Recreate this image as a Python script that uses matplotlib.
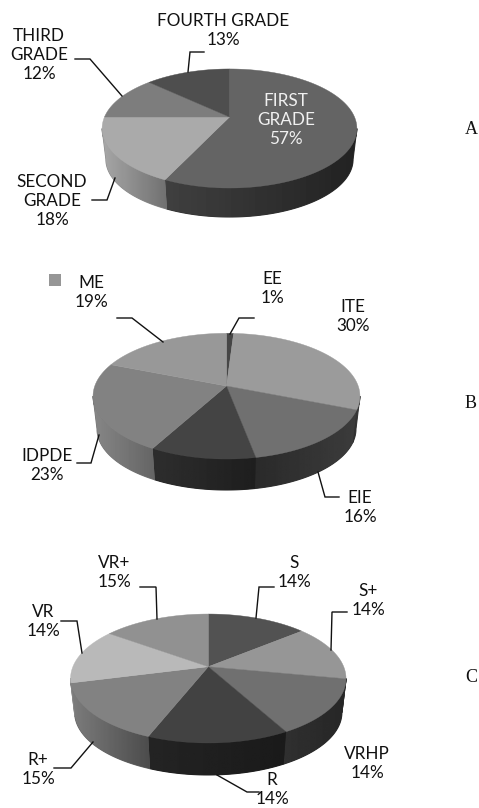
import numpy as np
import matplotlib
matplotlib.use("Agg")
import matplotlib.pyplot as plt
from matplotlib.patches import Polygon

plt.rcParams['font.family'] = ['Lato', 'DejaVu Sans']

# share of each slice, clockwise from 12 o'clock
values_a = [57, 18, 12, 13]
values_b = [1, 30, 16, 11, 23, 19]
values_c = [14, 14, 14, 14, 15, 14, 15]

# grey of the top face, and of the side wall at start and end of the slice
top_a = [100, 170, 125, 78]
side_a = [(34, 64), (112, 168), (120, 120), (70, 70)]
top_b = [70, 155, 112, 68, 130, 152]
side_b = [(60, 60), (62, 45), (60, 42), (30, 46), (100, 135), (140, 140)]
top_c = [82, 150, 112, 66, 130, 185, 145]
side_c = [(60, 60), (60, 60), (38, 48), (26, 36), (75, 125), (140, 140), (120, 120)]

labels_a = [("FOURTH GRADE\n13%", 223, 21), ("THIRD\nGRADE\n12%", 39, 36),
            ("SECOND\nGRADE\n18%", 52, 182)]
labels_b = [("ME\n19%", 91, 283), ("EE\n1%", 272, 279), ("ITE\n30%", 353, 307),
            ("IDPDE\n23%", 47, 456), ("EIE\n16%", 360, 498)]
labels_c = [("VR+\n15%", 114, 563), ("S\n14%", 294, 563), ("S+\n14%", 368, 591),
            ("VR\n14%", 43, 612), ("VRHP\n14%", 367, 754), ("R+\n15%", 38, 760),
            ("R\n14%", 272, 780)]

leaders_a = [[(75, 59), (90, 59), (122, 96)], [(204, 52), (190, 52), (188, 72)],
             [(92, 200), (107, 200), (115, 178)]]
leaders_b = [[(117, 318), (132, 318), (163, 342)], [(254, 318), (239, 318), (230, 334)],
             [(77, 463), (91, 463), (99, 435)], [(339, 497), (325, 497), (318, 472)]]
leaders_c = [[(140, 587), (156, 587), (157, 619)], [(274, 587), (259, 587), (256, 618)],
             [(347, 612), (332, 612), (331, 650)], [(61, 621), (77, 621), (82, 653)],
             [(54, 768), (71, 768), (93, 742)], [(259, 792), (247, 792), (217, 775)]]

fig = plt.figure(figsize=(4.79, 8.08), dpi=100)
ax = fig.add_axes([0, 0, 1, 1])


def rim(theta, cx, cy, a, b, k):
    # circle seen in perspective, the far side is squeezed
    w = 1 + k * np.cos(theta)
    return cx + a * np.sin(theta) / w, cy - b * np.cos(theta) / w


def pie3d(values, tops, sides, cx, cy, a, b, k, depth):
    edges = np.radians(np.cumsum([0] + values) * 3.6)
    # lower rim is a little narrower
    bottom_cy = cy + depth + 0.03 * b / (1 - k)
    # widest points of the rim, the wall only shows between them
    first = np.arccos(-k)
    last = 2 * np.pi - first
    for i in range(len(values)):
        start = max(edges[i], first)
        end = min(edges[i + 1], last)
        if end > start:
            t = np.linspace(start, end, 80)
            x1, y1 = rim(t, cx, cy, a, b, k)
            x2, y2 = rim(t, cx, bottom_cy, a * 0.97, b * 0.97, k)
            pts = np.c_[np.r_[x1, x2[::-1]], np.r_[y1, y2[::-1]]]
            # flat layer under the gradient so no white seams show
            g = np.mean(sides[i]) / 255
            ax.fill(pts[:, 0], pts[:, 1], color=(g, g, g), lw=0.8, zorder=2)
            wall = Polygon(pts, transform=ax.transData, fc='none', ec='none')
            ax.add_patch(wall)
            # shade runs across the wall, right to left
            shade = np.linspace(sides[i][0], sides[i][1], 64)[None, :]
            im = ax.imshow(shade, cmap='gray', vmin=0, vmax=255, aspect='auto',
                           extent=(pts[:, 0].max() + 1, pts[:, 0].min() - 1,
                                   pts[:, 1].max() + 2, pts[:, 1].min() - 2), zorder=2.1)
            im.set_clip_path(wall)
    for i in range(len(values)):
        t = np.linspace(edges[i], edges[i + 1], 100)
        x, y = rim(t, cx, cy, a, b, k)
        g = tops[i] / 255
        ax.fill(np.r_[cx, x], np.r_[cy, y], color=(g, g, g), lw=0.3, zorder=3)


def put_label(text, x, y, color='#111111'):
    for n, line in enumerate(text.split('\n')):
        ax.text(x, y + n * 19, line, ha='center', va='center', fontsize=12.3,
                color=color, zorder=5)


pie3d(values_a, top_a, side_a, 229.5, 117, 125, 57.3, 0.193, 29)
pie3d(values_b, top_b, side_b, 226.5, 386, 131.7, 61.2, 0.1615, 31)
pie3d(values_c, top_c, side_c, 208.3, 666.7, 135.4, 62.3, 0.183, 32)

for labels in (labels_a, labels_b, labels_c):
    for text, x, y in labels:
        put_label(text, x, y)
put_label("FIRST\nGRADE\n57%", 286, 101, color='#f0f0f0')

for leaders in (leaders_a, leaders_b, leaders_c):
    for pts in leaders:
        ax.plot(*zip(*pts), color='#111111', lw=1.0, zorder=4, solid_joinstyle='miter')

# legend key left over in panel B
ax.scatter([55], [280], marker='s', s=75, color='#969696', linewidths=0, zorder=4)

for letter, y in (("A", 129), ("B", 403), ("C", 678)):
    ax.text(471, y, letter, ha='center', va='center', fontsize=13,
            family='Liberation Serif', color='#111111')

ax.set_xlim(0, 479)
ax.set_ylim(808, 0)
ax.axis('off')

fig.savefig('out.png', dpi=100)
